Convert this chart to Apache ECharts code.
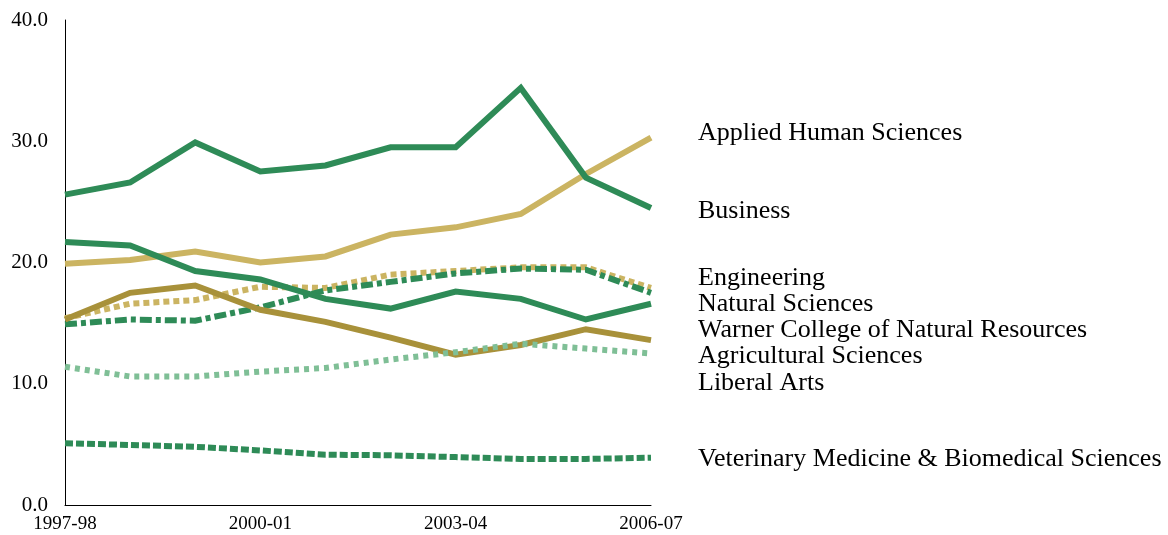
<!DOCTYPE html>
<html><head><meta charset="utf-8">
<script src="https://cdn.jsdelivr.net/npm/echarts@6/dist/echarts.min.js"></script>
<style>html,body{margin:0;padding:0;background:#fff}#c{width:1168px;height:535px}</style>
</head><body><div id="c"></div>
<script>
const categories = ['1997-98','1998-99','1999-00','2000-01','2001-02','2002-03','2003-04','2004-05','2005-06','2006-07'];
const seriesNames = ['Applied Human Sciences','Business','Engineering','Natural Sciences','Warner College of Natural Resources','Agricultural Sciences','Liberal Arts','Veterinary Medicine & Biomedical Sciences'];
const appliedHuman = [19.9,20.2,20.9,20.0,20.5,22.3,22.9,24.0,27.3,30.3];
const business = [25.6,26.6,29.9,27.5,28.0,29.5,29.5,34.4,27.0,24.5];
const engineering = [15.4,16.6,16.9,18.0,17.9,19.0,19.3,19.6,19.6,17.9];
const naturalSciences = [14.9,15.3,15.2,16.3,17.7,18.4,19.1,19.5,19.4,17.5];
const warner = [21.7,21.4,19.3,18.6,17.0,16.2,17.6,17.0,15.3,16.6];
const agricultural = [15.3,17.5,18.1,16.1,15.1,13.8,12.4,13.2,14.5,13.6];
const liberalArts = [11.4,10.6,10.6,11.0,11.3,12.0,12.6,13.3,12.9,12.5];
const veterinary = [5.1,4.95,4.8,4.5,4.15,4.1,3.95,3.8,3.8,3.9];
const yTicks = [0,10,20,30,40];

const FONT = 'Liberation Serif';
const chart = echarts.init(document.getElementById('c'), null, {renderer:'canvas'});
function mk(name, data, color, type, z){
  return {name, type:'line', data, symbol:'none', z: z||2,
    lineStyle:{color, width:6, type, cap:'butt', join:'miter'}, emphasis:{disabled:true}};
}
const labelY = [133,211,278,304,330,356,383,459];
chart.setOption({
  animation:false,
  grid:{left:65, top:20, right:517, bottom:30, containLabel:false},
  xAxis:{type:'category', data:categories, boundaryGap:false,
    axisLine:{lineStyle:{color:'#000', width:1}}, axisTick:{show:false},
    axisLabel:{interval:2, color:'#000', fontFamily:FONT, fontSize:19, margin:10,
      showMinLabel:true, showMaxLabel:true}},
  yAxis:{type:'value', min:0, max:40, interval:10,
    axisLine:{show:true, lineStyle:{color:'#000', width:1}}, axisTick:{show:false},
    splitLine:{show:false},
    axisLabel:{color:'#000', fontFamily:FONT, fontSize:21, margin:17, formatter:v=>v.toFixed(1)}},
  series:[
    mk(seriesNames[0], appliedHuman, '#CBB462', 'solid'),
    mk(seriesNames[1], business, '#2E8B57', 'solid', 3),
    mk(seriesNames[2], engineering, '#CBB462', [6,4]),
    mk(seriesNames[3], naturalSciences, '#2E8B57', [12,4,5,4]),
    mk(seriesNames[4], warner, '#2E8B57', 'solid'),
    mk(seriesNames[5], agricultural, '#A8913A', 'solid'),
    mk(seriesNames[6], liberalArts, '#7FBF96', [5,5]),
    mk(seriesNames[7], veterinary, '#2E8B57', [8,3])
  ],
  graphic: seriesNames.map((n,i)=>({type:'text', x:698, y:labelY[i],
    style:{text:n, fill:'#000', font:'26px "'+FONT+'"', verticalAlign:'middle'}}))
});
</script></body></html>
